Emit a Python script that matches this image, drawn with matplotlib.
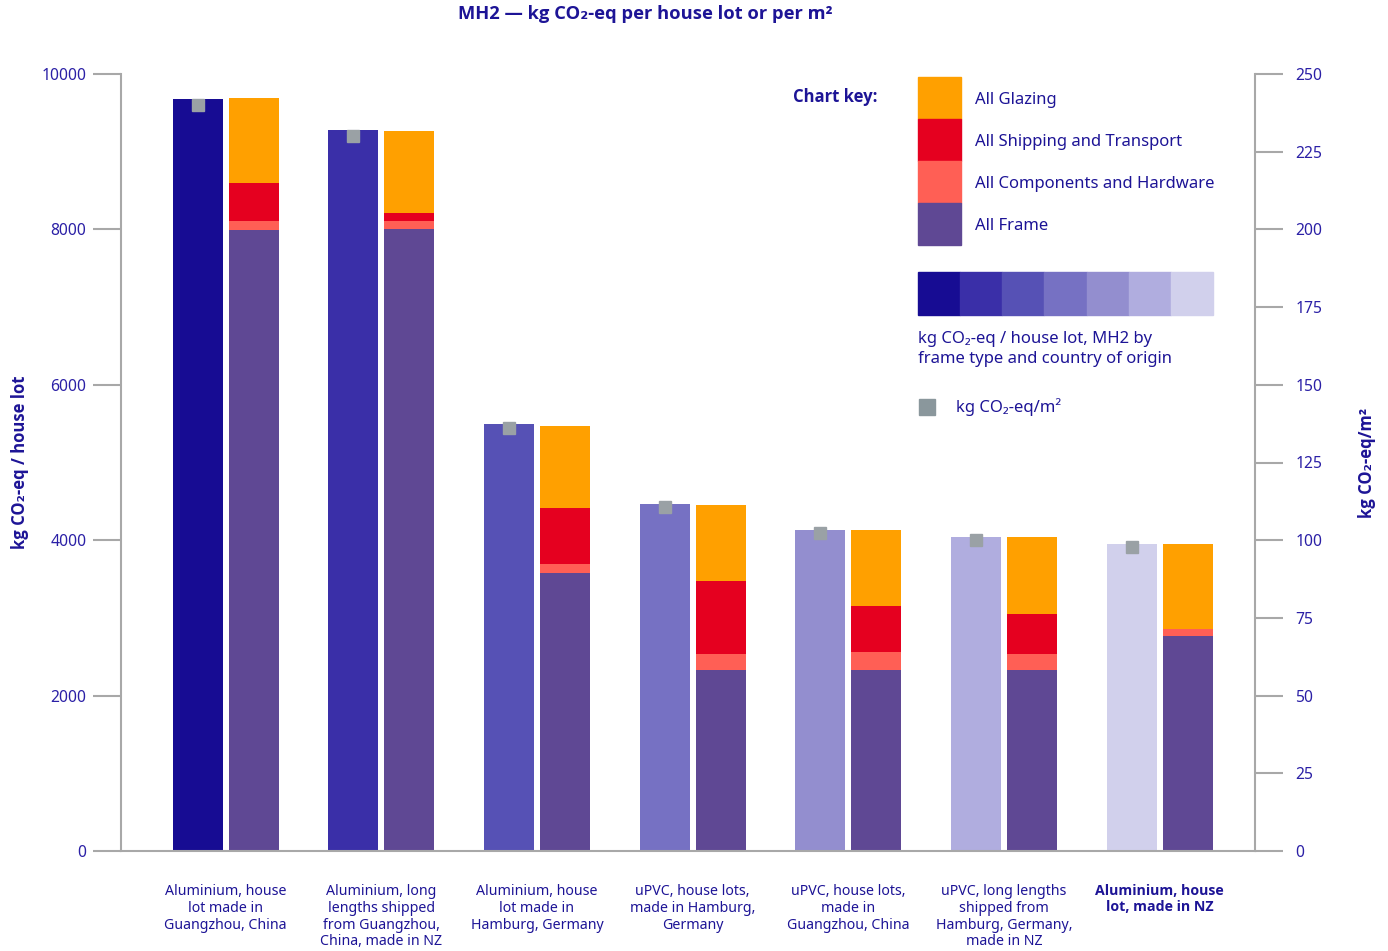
import matplotlib.pyplot as plt
from matplotlib.patches import Rectangle
import numpy as np

plt.rcParams['font.family'] = ['Noto Sans', 'DejaVu Sans']
BOLD = ['Open Sans', 'DejaVu Sans']

categories = [
    'Aluminium, house\nlot made in\nGuangzhou, China',
    'Aluminium, long\nlengths shipped\nfrom Guangzhou,\nChina, made in NZ',
    'Aluminium, house\nlot made in\nHamburg, Germany',
    'uPVC, house lots,\nmade in Hamburg,\nGermany',
    'uPVC, house lots,\nmade in\nGuangzhou, China',
    'uPVC, long lengths\nshipped from\nHamburg, Germany,\nmade in NZ',
    'Aluminium, house\nlot, made in NZ',
]
totals = [9680, 9280, 5495, 4465, 4130, 4040, 3950]
per_m2 = [240.0, 230.0, 136.1, 110.7, 102.3, 100.1, 97.8]
frame = [7990, 8005, 3580, 2330, 2330, 2330, 2765]
components = [115, 105, 115, 205, 230, 205, 90]
shipping = [490, 100, 720, 940, 590, 515, 0]
glazing = [1095, 1055, 1055, 980, 980, 990, 1095]

lot_colors = ['#170c93', '#3a2fa8', '#5651b5', '#7671c3', '#938ecf', '#b0addf', '#d1d0ec']
c_frame = '#5f4894'
c_comp = '#ff5f55'
c_ship = '#e5001f'
c_glaz = '#ffa000'
c_marker = '#9aa1a5'
txt = '#1d1496'
tick_txt = '#2b20a6'
grey = '#a8a8a8'

fig = plt.figure(figsize=(13.88, 9.51), dpi=100)
ax = fig.add_axes([121 / 1388, 1 - 851 / 951, (1255 - 121) / 1388, (851 - 74) / 951])
ax2 = ax.twinx()

x = np.arange(len(categories))
w = 0.321
off = 0.18

ax.bar(x - off, totals, w, color=lot_colors, zorder=2)
bottom = np.zeros(len(x))
for vals, col in [(frame, c_frame), (components, c_comp), (shipping, c_ship), (glazing, c_glaz)]:
    ax.bar(x + off, vals, w, bottom=bottom, color=col, zorder=2)
    bottom += np.array(vals)

ax2.plot(x - off, per_m2, 's', color=c_marker, markersize=8.6, zorder=3)

ax.set_xlim(-0.672, 6.613)
ax.set_ylim(0, 10000)
ax2.set_ylim(0, 250)
ax.set_yticks(range(0, 10001, 2000))
ax2.set_yticks(range(0, 251, 25))

for a in (ax, ax2):
    for s in a.spines.values():
        s.set_visible(False)
ax.spines['left'].set_visible(True)
ax.spines['bottom'].set_visible(True)
ax2.spines['right'].set_visible(True)
for s in [ax.spines['left'], ax.spines['bottom'], ax2.spines['right']]:
    s.set_color(grey)
    s.set_linewidth(1.5)

ax.tick_params(axis='y', length=20, width=1.5, color=grey, labelcolor=tick_txt, labelsize=11.3, pad=5)
ax2.tick_params(axis='y', length=20, width=1.5, color=grey, labelcolor=tick_txt, labelsize=11.3, pad=9)
ax.set_xticks(x)
ax.set_xticklabels(categories, fontsize=10.2, color=txt, linespacing=1.15)
ax.tick_params(axis='x', length=0, pad=24)
last = ax.get_xticklabels()[-1]
last.set_fontweight('bold')
last.set_family(BOLD)

ax.set_ylabel('kg CO₂-eq / house lot', color=txt, fontsize=12, fontweight='bold',
              family=BOLD, labelpad=9)
ax2.set_ylabel('kg CO₂-eq/m²', color=txt, fontsize=12, fontweight='bold',
               family=BOLD, labelpad=26)

fig.text(645 / 1388, 1 - 14 / 951, 'MH2 — kg CO₂-eq per house lot or per m²', color=txt,
         fontsize=13.2, fontweight='bold', family=BOLD, ha='center', va='center')

# chart key
def fx(px):
    return px / 1388

def fy(py):
    return 1 - py / 951

fig.text(fx(793), fy(97), 'Chart key:', color=txt, fontsize=12, fontweight='bold',
         family=BOLD, va='center')
key = [(c_glaz, 'All Glazing'), (c_ship, 'All Shipping and Transport'),
       (c_comp, 'All Components and Hardware'), (c_frame, 'All Frame')]
for i, (col, lab) in enumerate(key):
    top = 77 + i * 42
    fig.patches.append(Rectangle((fx(918), fy(top + 42)), fx(961) - fx(918), 42 / 951,
                                 transform=fig.transFigure, color=col))
    fig.text(fx(975), fy(top + 23), lab, color=txt, fontsize=12, va='center')

cell = (1213 - 918) / 7
for i, col in enumerate(lot_colors):
    fig.patches.append(Rectangle((fx(918 + i * cell), fy(315)), cell / 1388, 43 / 951,
                                 transform=fig.transFigure, color=col))
fig.text(fx(918), fy(349), 'kg CO₂-eq / house lot, MH2 by\nframe type and country of origin',
         color=txt, fontsize=12, va='center', linespacing=1.35)
fig.patches.append(Rectangle((fx(919), fy(415)), 16 / 1388, 16 / 951,
                             transform=fig.transFigure, color='#8a979c'))
fig.text(fx(956), fy(407), 'kg CO₂-eq/m²', color=txt, fontsize=12, va='center')

fig.savefig('out.png', dpi=100)
